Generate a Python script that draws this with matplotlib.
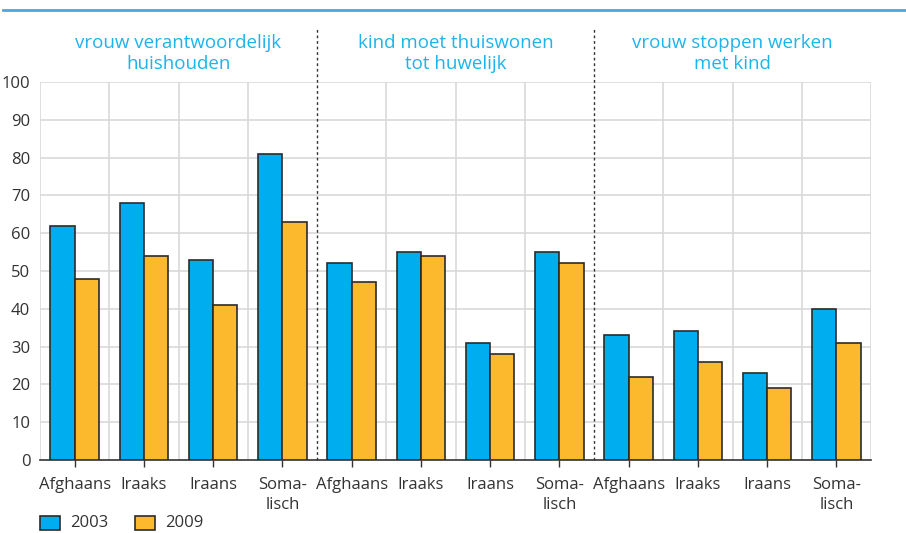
import matplotlib
matplotlib.use("Agg")
import matplotlib.pyplot as plt
import numpy as np
from matplotlib.patches import Rectangle

groups = ["vrouw verantwoordelijk\nhuishouden", "kind moet thuiswonen\ntot huwelijk", "vrouw stoppen werken\nmet kind"]
categories = ["Afghaans", "Iraaks", "Iraans", "Soma-\nlisch"]
years = ["2003", "2009"]
v2003 = [62, 68, 53, 81, 52, 55, 31, 55, 33, 34, 23, 40]
v2009 = [48, 54, 41, 63, 47, 54, 28, 52, 22, 26, 19, 31]

blue = "#00AEEF"
orange = "#FDB92E"
edge = "#2b2b2b"
title_col = "#1DB3EC"
text_col = "#333333"

plt.rcParams['font.family'] = ['Open Sans', 'DejaVu Sans']

fig = plt.figure(figsize=(9.06, 5.33), dpi=100)
ax = fig.add_axes([40/906, 1-460/533, 831/906, 378/533])

n = len(v2003)
x = np.arange(n)
w = 0.35
ax.bar(x - w/2, v2003, w, color=blue, edgecolor=edge, linewidth=1.2, zorder=3)
ax.bar(x + w/2, v2009, w, color=orange, edgecolor=edge, linewidth=1.2, zorder=3)

ax.set_xlim(-0.5, n - 0.5)
ax.set_ylim(0, 100)
ax.set_yticks(range(0, 101, 10))
ax.tick_params(axis='y', length=0, labelsize=12, colors=text_col, pad=7)
for yv in range(10, 101, 10):
    ax.axhline(yv, color="#d9d9d9", linewidth=1.2, zorder=1)
for b in np.arange(-0.5, n, 1.0):
    if b in (3.5, 7.5):
        continue
    ax.axvline(b, color="#d9d9d9", linewidth=1.2, zorder=1)
for b in (3.5, 7.5):
    ax.plot([b, b], [0, 114.5], color="#333333", linestyle=(0, (2, 2)), linewidth=1, clip_on=False, zorder=2)

ax.set_xticks(x)
ax.set_xticklabels(categories * 3, fontsize=12, color=text_col, linespacing=1.35)
ax.tick_params(axis='x', length=5, width=1, color="#333333", pad=7)

for s in ["top", "right", "left"]:
    ax.spines[s].set_visible(False)
ax.spines["bottom"].set_color("#333333")
ax.spines["bottom"].set_linewidth(1.2)

for gi, g in enumerate(groups):
    ax.text(gi * 4 + 1.5, 107.6, g, ha="center", va="center", fontsize=13.5, color=title_col, linespacing=1.2, clip_on=False)

# top blue line
fig.add_artist(plt.Line2D([3/906, 1.0], [1-10/533, 1-10/533], color="#4DA6DE", linewidth=2))

# legend
for i, (lab, col) in enumerate(zip(years, [blue, orange])):
    x0 = (40 + i * 95) / 906
    fig.add_artist(Rectangle((x0, 1-530/533), 20/906, 14/533, facecolor=col, edgecolor=edge, linewidth=1.2, transform=fig.transFigure))
    fig.text(x0 + 30/906, 1-523/533, lab, fontsize=12, color=text_col, va="center", ha="left")

fig.savefig("out.png", dpi=100)
